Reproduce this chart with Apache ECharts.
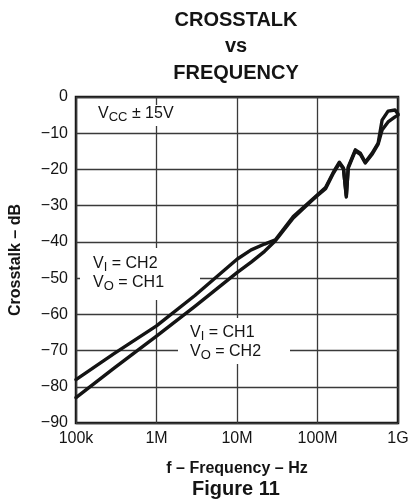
<!DOCTYPE html>
<html><head><meta charset="utf-8">
<script src="https://cdn.jsdelivr.net/npm/echarts@6/dist/echarts.min.js"></script>
<style>html,body{margin:0;padding:0;background:#fff}#c{width:415px;height:499px}</style>
</head><body><div id="c"></div>
<script>
// ---- data ----
const titleLines = ['CROSSTALK', 'vs', 'FREQUENCY'];
const xTickLabels = ['100k', '1M', '10M', '100M', '1G'];
const xAxisTitle = 'f \u2013 Frequency \u2013 Hz';
const yAxisTitle = 'Crosstalk \u2013 dB';
const figureLabel = 'Figure 11';

// V_I = CH2, V_O = CH1 (upper at low frequency)
const freqA = [1e5, 3e5, 1e6, 3e6, 1e7, 1.5e7, 2.2e7, 3e7, 5e7, 8.2e7, 1e8, 1.26e8, 1.58e8, 1.87e8, 2.1e8, 2.28e8, 2.41e8, 2.95e8, 3.4e8, 3.92e8, 4.78e8, 5.67e8, 6.34e8, 7.53e8, 9.19e8, 1e9];
const dbA   = [-78, -70.8, -63.2, -54.8, -44.8, -42.2, -40.6, -39.4, -33, -28.7, -27, -25, -20.7, -18, -19.6, -27.6, -19.3, -14.6, -15.5, -18, -15.5, -12.7, -6.4, -3.9, -3.6, -4.7];
// V_I = CH1, V_O = CH2 (lower at low frequency)
const freqB = [1e5, 3e5, 1e6, 3e6, 1e7, 1.5e7, 2.2e7, 3e7, 5e7, 8.2e7, 1e8, 1.26e8, 1.58e8, 1.87e8, 2.1e8, 2.28e8, 2.41e8, 2.95e8, 3.4e8, 3.92e8, 4.78e8, 5.67e8, 6.34e8, 7.53e8, 9.19e8, 1e9];
const dbB   = [-83, -74.8, -66, -57.8, -48.5, -45.6, -42.6, -39.7, -33.4, -28.9, -27.2, -25.3, -21, -18.3, -19.8, -27.2, -19.6, -14.9, -15.8, -18.2, -15.8, -13, -9.1, -6.9, -5.5, -5];

// ---- chart ----
const FONT = '"Liberation Sans", Arial, Helvetica, sans-serif';
const INK = '#141414';
const chart = echarts.init(document.getElementById('c'), null, {renderer: 'canvas'});

const rich = {
  v: {fontSize: 16, fontFamily: FONT, color: INK, lineHeight: 19, verticalAlign: 'middle'},
  s: {fontSize: 13, fontFamily: FONT, color: INK, lineHeight: 11, verticalAlign: 'bottom'}
};
function ann(x, y, text) {
  return {type: 'text', x: x, y: y, z: 5, silent: true,
    style: {text: text, rich: rich, fontFamily: FONT, fontSize: 16, fill: INK, textVerticalAlign: 'middle'}};
}
function box(x, y, w, h) {
  return {type: 'rect', z: 4, silent: true, shape: {x: x, y: y, width: w, height: h}, style: {fill: '#fff'}};
}

const option = {
  backgroundColor: '#fff',
  animation: false,
  grid: {left: 74, right: 17, top: 97, bottom: 76, show: true, borderColor: INK, borderWidth: 2.5, backgroundColor: 'transparent'},
  xAxis: {
    type: 'log', logBase: 10, min: 1e5, max: 1e9,
    name: xAxisTitle, nameLocation: 'middle', nameGap: 38,
    nameTextStyle: {fontFamily: FONT, fontSize: 16, fontWeight: 'bold', color: INK},
    axisLine: {show: false}, axisTick: {show: false},
    axisLabel: {fontFamily: FONT, fontSize: 16, color: INK, margin: 8,
      formatter: v => xTickLabels[Math.round(Math.log10(v)) - 5]},
    splitLine: {show: true, lineStyle: {color: '#3a3a3a', width: 1.3}},
    minorSplitLine: {show: false}
  },
  yAxis: {
    type: 'value', min: -90, max: 0, interval: 10,
    name: yAxisTitle, nameLocation: 'middle', nameGap: 52, nameRotate: 90,
    nameTextStyle: {fontFamily: FONT, fontSize: 16, fontWeight: 'bold', color: INK},
    axisLine: {show: false}, axisTick: {show: false},
    axisLabel: {fontFamily: FONT, fontSize: 16, color: INK, margin: 8,
      formatter: v => v < 0 ? '\u2212' + Math.abs(v) : String(v)},
    splitLine: {show: true, lineStyle: {color: '#3a3a3a', width: 1.3}}
  },
  graphic: [
    {type: 'text', x: 236, y: 20, silent: true, style: {text: titleLines[0], fontFamily: FONT, fontSize: 20, fontWeight: 'bold', fill: INK, textAlign: 'center', textVerticalAlign: 'middle'}},
    {type: 'text', x: 236, y: 46, silent: true, style: {text: titleLines[1], fontFamily: FONT, fontSize: 20, fontWeight: 'bold', fill: INK, textAlign: 'center', textVerticalAlign: 'middle'}},
    {type: 'text', x: 236, y: 73, silent: true, style: {text: titleLines[2], fontFamily: FONT, fontSize: 20, fontWeight: 'bold', fill: INK, textAlign: 'center', textVerticalAlign: 'middle'}},
    {type: 'text', x: 236, y: 489, silent: true, style: {text: figureLabel, fontFamily: FONT, fontSize: 20, fontWeight: 'bold', fill: INK, textAlign: 'center', textVerticalAlign: 'middle'}},
    box(90, 105, 90, 21),
    box(80, 248, 120, 52),
    box(178, 318, 112, 46),
    ann(98, 114, '{v|V}{s|CC}{v| \u00b1 15V}'),
    ann(93, 264, '{v|V}{s|I}{v| = CH2}'),
    ann(93, 283, '{v|V}{s|O}{v| = CH1}'),
    ann(190, 333, '{v|V}{s|I}{v| = CH1}'),
    ann(190, 352, '{v|V}{s|O}{v| = CH2}')
  ],
  series: [
    {type: 'line', name: 'VI=CH2', data: freqA.map((f, i) => [f, dbA[i]]), symbol: 'none', smooth: false, z: 10,
      lineStyle: {color: INK, width: 3.4, join: 'round', cap: 'round'}},
    {type: 'line', name: 'VI=CH1', data: freqB.map((f, i) => [f, dbB[i]]), symbol: 'none', smooth: false, z: 10,
      lineStyle: {color: INK, width: 3.4, join: 'round', cap: 'round'}}
  ]
};
chart.setOption(option);
</script>
</body></html>
